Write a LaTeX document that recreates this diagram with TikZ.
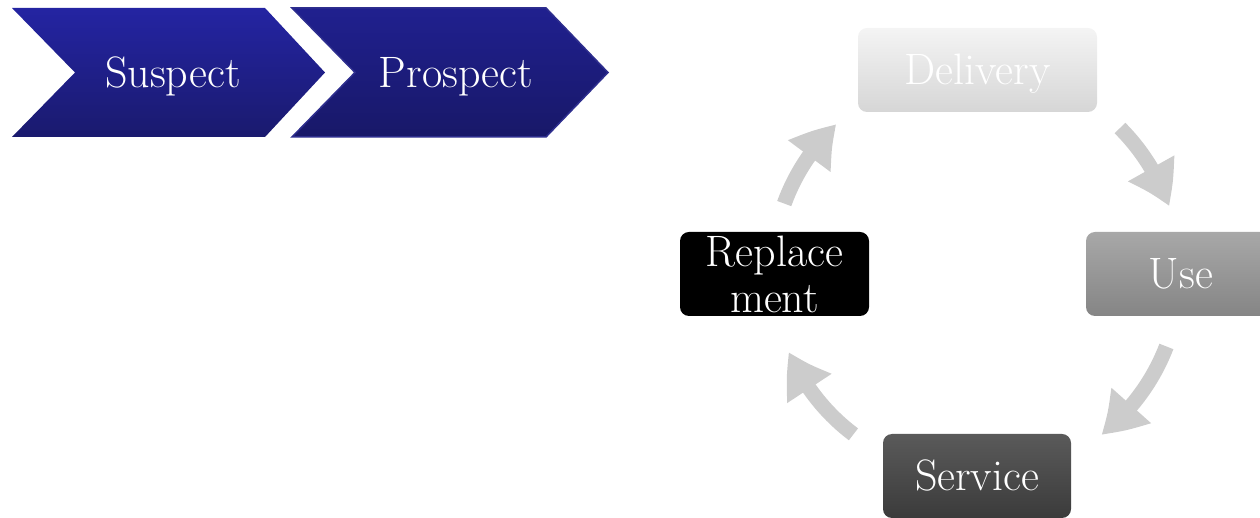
\documentclass[tikz,border=0pt]{standalone}
\usetikzlibrary{arrows.meta,bending}

\definecolor{chevtop}{HTML}{2424A2}
\definecolor{chevbot}{HTML}{1A1A6E}
\definecolor{chevtopB}{HTML}{20208F}
\definecolor{chevbotB}{HTML}{181868}
\definecolor{chevedge}{HTML}{2E2E8E}
\definecolor{delivtop}{HTML}{F4F4F4}
\definecolor{delivbot}{HTML}{D6D6D6}
\definecolor{usetop}{HTML}{A8A8A8}
\definecolor{usebot}{HTML}{858585}
\definecolor{servtop}{HTML}{5A5A5A}
\definecolor{servbot}{HTML}{3B3B3B}
\definecolor{arrowgrey}{HTML}{CCCCCC}

\begin{document}
\begin{tikzpicture}[x=1pt,y=1pt,
  bigtext/.style={text=white, font=\fontsize{44}{46}\selectfont},
  capfit/.style={text height=30pt, text depth=0pt},
  stage/.style={bigtext, rounded corners=9pt, inner sep=0pt, minimum height=84pt},
  cyc/.style={draw=arrowgrey, line width=15pt,
    -{Triangle[width=50pt,length=42pt,bend]}}
]
\useasboundingbox (0,0) rectangle (1260,518);

% chevron process
\shade[top color=chevtop, bottom color=chevbot]
  (12,510) -- (265,510) -- (325,445.5) -- (265,381) -- (12,381) -- (75,445.5) -- cycle;
\shade[top color=chevtopB, bottom color=chevbotB, draw=chevedge, line width=1.5pt]
  (292,510) -- (546,510) -- (608,445.5) -- (546,381) -- (292,381) -- (355,445.5) -- cycle;
\node[bigtext, capfit, inner sep=0pt] (suspect) at (173,445.5) {Suspect};
\node[bigtext, capfit, inner sep=0pt] (prospect) at (456,445.5) {Prospect};

% life cycle stages
\node[stage, capfit, minimum width=239pt, top color=delivtop, bottom color=delivbot]
  (delivery) at (977.5,448) {Delivery};
\node[stage, capfit, minimum width=190pt, top color=usetop, bottom color=usebot]
  (use) at (1181,244) {Use};
\node[stage, capfit, minimum width=188pt, top color=servtop, bottom color=servbot]
  (service) at (977,42) {Service};
\node[stage, align=center, minimum width=189pt, fill=black]
  (replacement) at (774.5,244) {Replace\\ment};

% circular arrows between stages
\coordinate (hub) at (975,245);
\draw[cyc] ([shift={(160:203)}]hub) arc[start angle=160, end angle=133, radius=203];
\draw[cyc] ([shift={(45:205)}]hub) arc[start angle=45, end angle=19, radius=205];
\draw[cyc] ([shift={(-21:205)}]hub) arc[start angle=-21, end angle=-52, radius=205];
\draw[cyc] ([shift={(-127:202)}]hub) arc[start angle=-127, end angle=-157, radius=202];
\end{tikzpicture}
\end{document}
